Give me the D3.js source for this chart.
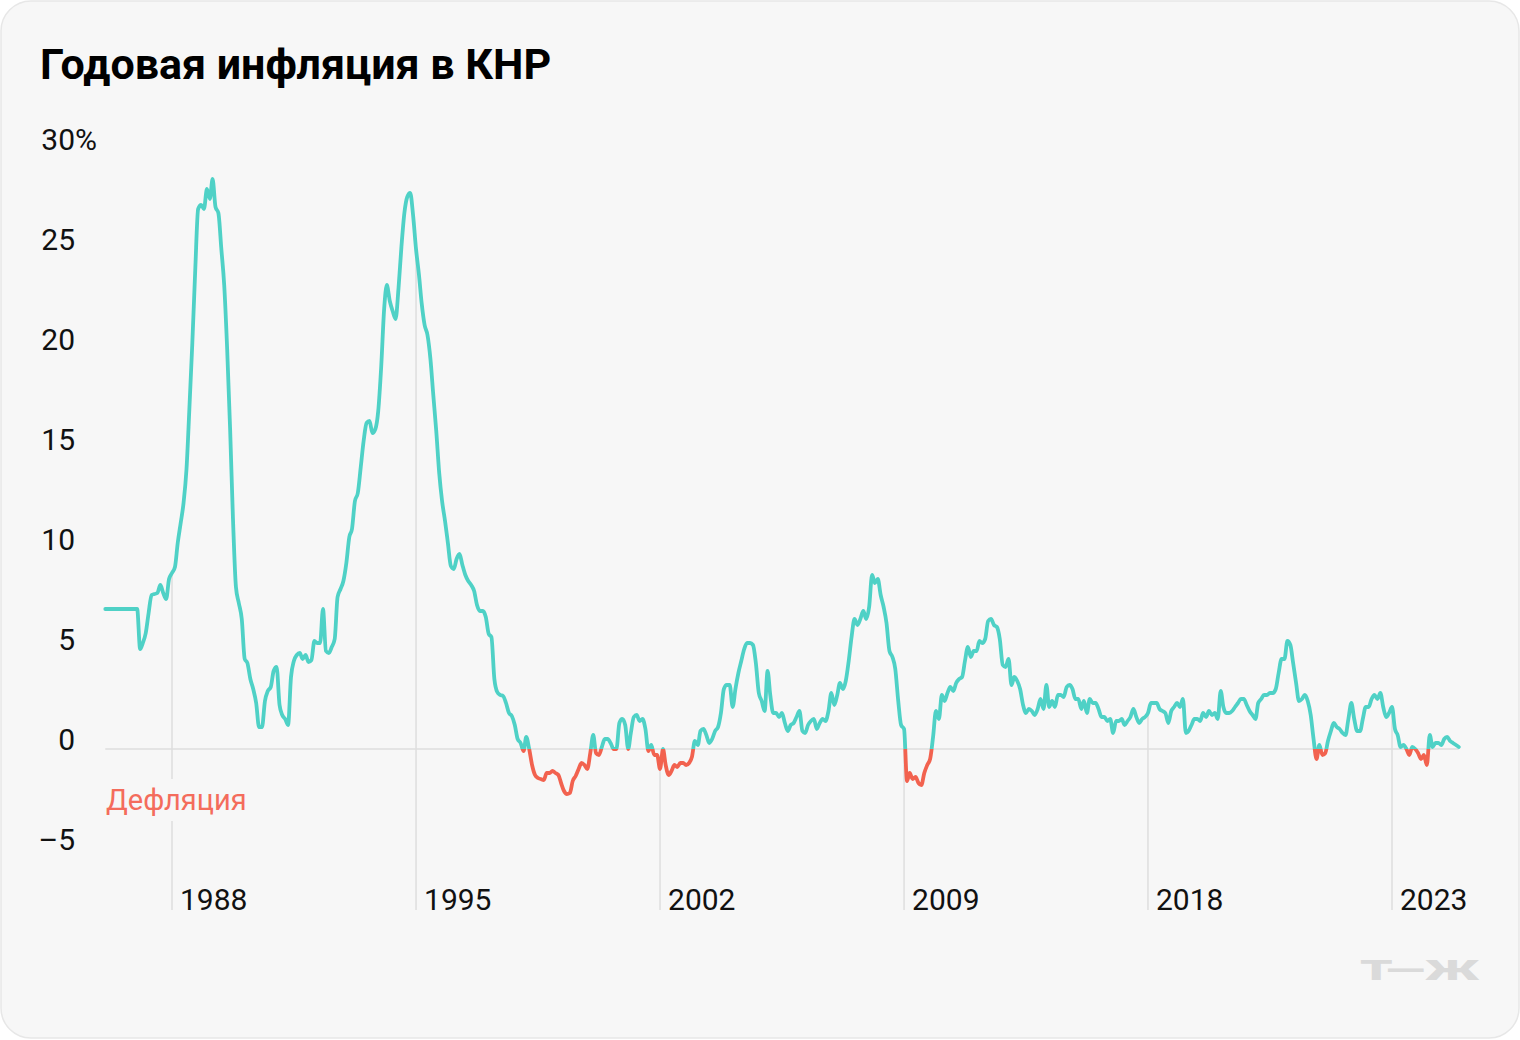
<!DOCTYPE html>
<html><head><meta charset="utf-8">
<script src="https://cdn.jsdelivr.net/npm/d3@7"></script>
<style>
html,body{margin:0;padding:0;background:#ffffff;}
svg{display:block;font-family:Roboto,"Noto Sans",sans-serif;}
</style></head><body>
<svg id="chart" width="1520" height="1040"></svg>
<script>
// First month of the series: February 1986 (year, 0-based month)
const firstMonth = [1986, 1];
// Monthly year-over-year CPI, %
const cpi1986to1989 = [
  7.0,7.0,7.0,7.0,7.0,7.0,7.0,7.0,7.0,7.0,7.0,
  7.0,5.0,5.3,5.8,6.8,7.7,7.75,7.8,8.2,7.8,7.5,8.5,
  8.8,9.1,10.3,11.3,12.3,14.0,17.0,20.3,24.0,27.0,27.2,27.0,
  28.0,27.5,28.5,27.1,26.8,25.0,23.2,20.0,16.0,11.5,8.1,7.3
];
const cpi1990s = [
  6.5,4.5,4.3,3.5,3.0,2.3,1.1,1.1,2.4,2.9,3.1,3.9,
  4.1,2.2,1.7,1.5,1.2,3.6,4.4,4.7,4.8,4.5,4.7,4.35,
  4.45,5.4,5.3,5.3,7.0,4.9,4.8,5.1,5.5,7.6,8.0,8.4,
  9.3,10.6,11.0,12.4,12.8,14.1,15.4,16.3,16.4,15.8,16.0,16.9,
  19.1,22.0,23.2,22.4,21.9,21.5,23.0,25.1,26.8,27.6,27.8,26.7,
  25.0,23.7,22.3,21.2,20.7,19.5,17.7,15.9,13.8,12.4,11.4,10.3,
  9.15,9.0,9.5,9.75,9.2,8.7,8.4,8.2,7.9,7.2,6.9,6.9,
  6.6,5.75,5.6,3.5,2.85,2.7,2.65,2.3,1.8,1.65,1.2,0.5,
  0.3,-0.1,0.6,0.0,-0.8,-1.3,-1.45,-1.5,-1.55,-1.2,-1.2,-1.1,
  -1.2,-1.3,-1.7,-2.1,-2.25,-2.2,-1.6,-1.35,-1.0,-0.7,-0.8,-1.0
];
const cpi2000s = [
  -0.2,0.7,-0.2,-0.3,0.1,0.5,0.5,0.3,0.0,0.0,1.3,1.5,
  1.2,0.0,0.8,1.6,1.7,1.4,1.5,1.0,-0.1,0.2,-0.3,-0.3,
  -1.0,0.0,-0.8,-1.3,-1.1,-0.8,-0.9,-0.7,-0.7,-0.8,-0.7,-0.4,
  0.4,0.2,0.9,1.0,0.7,0.3,0.5,0.9,1.1,1.8,3.0,3.2,
  3.2,2.1,3.0,3.8,4.4,5.0,5.3,5.3,5.2,4.3,2.8,2.4,
  1.9,3.9,2.7,1.8,1.8,1.6,1.8,1.3,0.9,1.2,1.3,1.6,
  1.9,0.9,0.8,1.2,1.4,1.5,1.0,1.3,1.5,1.4,1.9,2.8,
  2.2,2.7,3.3,3.0,3.4,4.4,5.6,6.5,6.2,6.5,6.9,6.5,
  7.1,8.7,8.3,8.5,7.7,7.1,6.3,4.9,4.6,4.0,2.4,1.2,
  1.0,-1.6,-1.2,-1.5,-1.4,-1.7,-1.8,-1.2,-0.8,-0.5,0.6,1.9
];
const cpi2010s = [
  1.5,2.7,2.4,2.8,3.1,2.9,3.3,3.5,3.6,4.4,5.1,4.6,
  4.9,4.9,5.4,5.3,5.5,6.4,6.5,6.2,6.1,5.5,4.2,4.1,
  4.5,3.2,3.6,3.4,3.0,2.2,1.8,2.0,1.9,1.7,2.0,2.5,
  2.0,3.2,2.1,2.4,2.1,2.7,2.7,2.6,3.1,3.2,3.0,2.5,
  2.5,2.0,2.4,1.8,2.5,2.3,2.3,2.0,1.6,1.6,1.4,1.5,
  0.8,1.4,1.4,1.5,1.2,1.4,1.6,2.0,1.6,1.3,1.5,1.6,
  1.8,2.3,2.3,2.3,2.0,1.9,1.8,1.3,1.9,2.1,2.3,2.1,
  2.5,0.8,0.9,1.2,1.5,1.5,1.4,1.8,1.6,1.9,1.7,1.8,
  1.5,2.9,2.1,1.8,1.8,1.9,2.1,2.3,2.5,2.5,2.2,1.9,
  1.7,1.5,2.3,2.5,2.7,2.7,2.8,2.8,3.0,3.8,4.5,4.5
];
const cpi2020s = [
  5.4,5.2,4.3,3.3,2.4,2.5,2.7,2.4,1.7,0.5,-0.5,0.2,
  -0.3,-0.2,0.4,0.9,1.3,1.1,1.0,0.8,0.7,1.5,2.3,1.5,
  0.9,0.9,1.5,2.1,2.1,2.5,2.7,2.5,2.8,2.1,1.6,1.8,
  2.1,1.0,0.7,0.1,0.2,0.0,-0.3,0.1,0.0,-0.2,-0.5,-0.3,
  -0.8,0.7,0.1,0.3,0.3,0.2,0.5,0.6,0.4,0.3,0.2,0.1
];
// Axis ticks (positions by year, labels as printed on the reference)
const tickYears = [1988, 1995, 2002, 2009, 2016, 2023];
const tickLabels = ["1988", "1995", "2002", "2009", "2018", "2023"];
const yTicks = [-5, 0, 5, 10, 15, 20, 25, 30];
const yTickLabels = ["–5", "0", "5", "10", "15", "20", "25", "30"];
const titleText = "Годовая инфляция в КНР";
const deflationText = "Дефляция";
const logoText = "т—ж";

const TEAL = "#4fd1c6", RED = "#f2624f";

const values = [].concat(cpi1986to1989, cpi1990s, cpi2000s, cpi2010s, cpi2020s);
const data = values.map((v, i) => ({date: new Date(firstMonth[0], firstMonth[1] + i, 1), value: v}));

const svg = d3.select("#chart");
svg.append("rect").attr("x", 1).attr("y", 1).attr("width", 1518).attr("height", 1037)
  .attr("rx", 30).attr("fill", "#f7f7f7").attr("stroke", "#e7e7e7").attr("stroke-width", 1.5);

const x = d3.scaleTime().domain([new Date(1988, 0, 1), new Date(2023, 0, 1)]).range([172, 1392]);
const y = d3.scaleLinear().domain([-5, 30]).range([849, 149]);
const axisBottom = 910;

// title
svg.append("text").attr("x", 40).attr("y", 79).text(titleText)
  .attr("font-size", 43).attr("font-weight", 700).attr("fill", "#000");

// y tick labels
const yg = svg.append("g");
yg.selectAll("text.yl").data(yTicks).join("text").attr("class", "yl")
  .attr("x", 75).attr("y", d => y(d) + 1).attr("text-anchor", "end")
  .attr("font-size", 30).attr("fill", "#111").text((d, i) => yTickLabels[i]);
yg.append("text").attr("x", 75).attr("y", y(30) + 1).attr("font-size", 30).attr("fill", "#111").text("%");

// value at a date (linear between months)
const bis = d3.bisector(d => d.date).left;
function valueAt(date) {
  const i = bis(data, date);
  if (i <= 0) return data[0].value;
  if (i >= data.length) return data[data.length - 1].value;
  const a = data[i - 1], b = data[i];
  const t = (date - a.date) / (b.date - a.date);
  return a.value + t * (b.value - a.value);
}

// drop lines at ticks
const xg = svg.append("g");
tickYears.forEach((yr, i) => {
  const d = new Date(yr, 0, 1);
  const px = x(d);
  xg.append("line").attr("x1", px).attr("x2", px)
    .attr("y1", y(valueAt(d))).attr("y2", axisBottom)
    .attr("stroke", "#dedede").attr("stroke-width", 1.5);
  xg.append("text").attr("x", px + 8).attr("y", axisBottom).attr("font-size", 30)
    .attr("fill", "#111").text(tickLabels[i]);
});

// zero line
svg.append("line").attr("x1", x(data[0].date)).attr("x2", x(data[data.length - 1].date))
  .attr("y1", y(0)).attr("y2", y(0)).attr("stroke", "#dedede").attr("stroke-width", 1.5);

// deflation label with background
svg.append("rect").attr("x", 100).attr("y", 779).attr("width", 152).attr("height", 42).attr("fill", "#f7f7f7");
svg.append("text").attr("x", 106).attr("y", 810).attr("font-size", 29).attr("fill", "#f46c5c").text(deflationText);

// line, split at zero with clips
const defs = svg.append("defs");
defs.append("clipPath").attr("id", "above").append("rect")
  .attr("x", 0).attr("y", 0).attr("width", 1520).attr("height", y(0));
defs.append("clipPath").attr("id", "below").append("rect")
  .attr("x", 0).attr("y", y(0)).attr("width", 1520).attr("height", 1040 - y(0));
const line = d3.line().curve(d3.curveMonotoneX).x(d => x(d.date)).y(d => y(d.value));
[["above", TEAL], ["below", RED]].forEach(([id, col]) => {
  svg.append("path").datum(data).attr("d", line).attr("fill", "none")
    .attr("stroke", col).attr("stroke-width", 3.8)
    .attr("stroke-linejoin", "round").attr("stroke-linecap", "round")
    .attr("clip-path", `url(#${id})`);
});

// logo
svg.append("text").attr("x", 1360).attr("y", 980).attr("font-size", 28).attr("font-weight", 900)
  .attr("fill", "#dadada").attr("textLength", 119).attr("lengthAdjust", "spacingAndGlyphs")
  .text(logoText.toUpperCase());
</script>
</body></html>
